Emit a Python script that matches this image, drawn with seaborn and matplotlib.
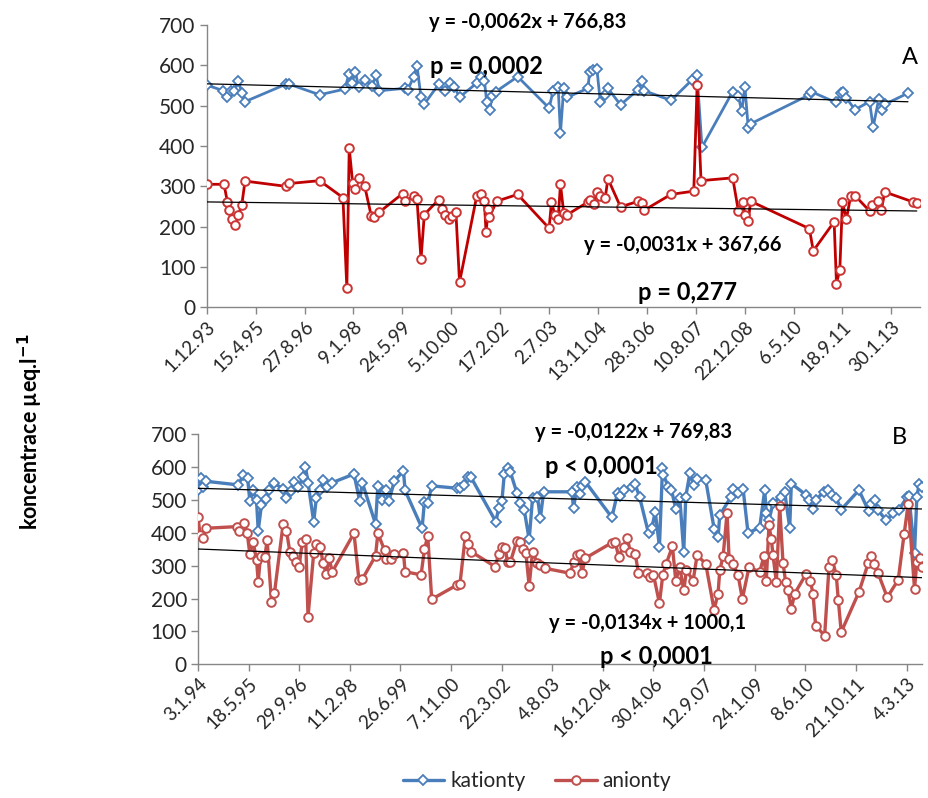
import numpy as np
import pandas as pd
import matplotlib
matplotlib.use("Agg")
import matplotlib.pyplot as plt
import seaborn as sns

# ---------------- Panel A (start 1.12.1993), days since start ----------------
a_start = "1993-12-01"
a_cat_days = [0, 171, 205, 249, 283, 324, 358, 392, 809, 846, 1154, 1410, 1457, 1485,
              1519, 1553, 1614, 1694, 1731, 1766, 2024, 2058, 2116, 2150, 2191, 2225,
              2372, 2439, 2490, 2531, 2585, 2761, 2802, 2839, 2863, 2897, 2914, 2958,
              3179, 3501, 3542, 3593, 3617, 3650, 3688, 3898, 3915, 3949, 3990, 4024,
              4068, 4102, 4231, 4407, 4448, 4475, 4747, 4963, 5014, 5064, 5378, 5436,
              5470, 5503, 5537, 5561, 6162, 6179, 6432, 6483, 6506, 6540, 6628, 6777,
              6814, 6871, 6905, 6939, 7170]
a_cat_vals = [551, 537, 521, 537, 537, 562, 532, 510, 553, 553, 527, 541, 579, 557,
              584, 547, 564, 549, 576, 537, 543, 540, 572, 599, 521, 504,
              553, 537, 557, 547, 521, 556, 570, 562, 510, 488, 524, 535,
              572, 494, 537, 547, 432, 543, 521, 543, 584, 588, 590, 510,
              527, 543, 502, 539, 560, 537, 513, 564, 576, 397, 535, 524,
              486, 546, 444, 455, 527, 535, 508, 531, 535, 519, 490, 510,
              447, 516, 490, 504, 531]
a_an_days = [0, 177, 212, 232, 263, 290, 324, 358, 392, 809, 846, 1154, 1393, 1433,
             1457, 1492, 1519, 1553, 1614, 1683, 1713, 1765, 2003, 2031, 2116, 2150,
             2191, 2225, 2372, 2405, 2439, 2473, 2507, 2548, 2585, 2761, 2802, 2839,
             2856, 2880, 2890, 2965, 3179, 3501, 3525, 3559, 3593, 3617, 3650, 3688,
             3898, 3915, 3959, 3990, 4024, 4075, 4102, 4231, 4414, 4448, 4475, 4747,
             4980, 5014, 5054, 5378, 5436, 5480, 5503, 5537, 5561, 6162, 6202, 6415,
             6439, 6473, 6500, 6540, 6584, 6628, 6777, 6804, 6865, 6898, 6932, 7226,
             7260]
a_an_vals = [305, 305, 261, 241, 220, 203, 230, 253, 313, 300, 307, 314, 272, 47,
             395, 309, 294, 321, 302, 226, 225, 236, 282, 263, 276, 269,
             119, 230, 267, 243, 230, 220, 226, 236, 62, 276, 280, 263,
             187, 243, 224, 263, 280, 196, 261, 230, 218, 305, 235, 230,
             261, 267, 255, 286, 276, 272, 319, 249, 263, 258, 241, 280,
             288, 550, 314, 321, 239, 261, 230, 214, 263, 195, 140, 212,
             59, 93, 261, 218, 276, 277, 239, 253, 263, 241, 286, 261,
             258]
a_ticks = ["1.12.93", "15.4.95", "27.8.96", "9.1.98", "24.5.99", "5.10.00", "17.2.02",
           "2.7.03", "13.11.04", "28.3.06", "10.8.07", "22.12.08", "6.5.10", "18.9.11",
           "30.1.13"]
# trend lines (x = spreadsheet date serial)
a_cat_trend = (-0.0062, 766.83)
a_an_trend = (-0.0031, 367.66)

# ---------------- Panel B (start 3.1.1994), days since start ----------------
b_start = "1994-01-03"
b_cat_days = [0, 30, 53, 79, 397, 447, 490, 512, 545, 578, 595, 627, 670, 700, 749,
              841, 874, 923, 949, 989, 1038, 1061, 1087, 1143, 1169, 1209, 1235, 1275,
              1327, 1541, 1597, 1623, 1754, 1777, 1820, 1853, 1886, 1941, 2030, 2046,
              2214, 2237, 2270, 2309, 2556, 2588, 2631, 2664, 2697, 2943, 2970, 3003,
              3026, 3058, 3085, 3150, 3183, 3223, 3272, 3305, 3354, 3382, 3415, 3694,
              3710, 3743, 3770, 3793, 3826, 4089, 4145, 4171, 4204, 4286, 4319, 4362,
              4451, 4484, 4517, 4559, 4589, 4599, 4648, 4678, 4720, 4760, 4799, 4819,
              4859, 4898, 4931, 5016, 5099, 5138, 5155, 5263, 5286, 5336, 5385, 5434,
              5549, 5599, 5615, 5641, 5681, 5757, 5796, 5846, 5862, 6010, 6036, 6076,
              6102, 6181, 6224, 6267, 6306, 6355, 6530, 6625, 6652, 6685, 6718, 6800,
              6865, 6925, 7004, 7024, 7079, 7102, 7125, 7150]
b_cat_vals = [531, 568, 539, 557, 546, 576, 566, 498, 529, 500, 407, 485, 502, 529, 553,
              533, 507, 526, 556, 539, 569, 602, 553, 434, 505, 529, 561, 539,
              553, 579, 498, 553, 427, 543, 500, 529, 498, 558, 589, 529,
              414, 495, 490, 543, 536, 537, 545, 571, 569, 434, 475, 498,
              579, 597, 586, 522, 490, 470, 380, 505, 510, 444, 525, 525,
              475, 539, 518, 543, 556, 447, 522, 512, 529, 541, 548, 510,
              399, 414, 465, 358, 597, 576, 539, 530, 474, 505, 342, 510,
              581, 545, 565, 561, 413, 386, 454, 508, 535, 520, 535, 400,
              416, 530, 459, 438, 491, 510, 525, 416, 550, 515, 499, 474,
              499, 525, 530, 515, 505, 471, 530, 467, 489, 499, 469, 438,
              459, 471, 508, 512, 339, 508, 550, 540]
b_an_days = [0, 20, 46, 79, 381, 407, 453, 486, 512, 545, 578, 595, 618, 660, 683,
             726, 755, 841, 874, 907, 939, 972, 998, 1031, 1064, 1087, 1143, 1169,
             1209, 1235, 1268, 1294, 1327, 1541, 1590, 1623, 1754, 1777, 1843, 1859,
             1909, 1941, 2030, 2046, 2204, 2237, 2270, 2309, 2556, 2588, 2641, 2664,
             2697, 2937, 2970, 3003, 3035, 3058, 3085, 3150, 3183, 3213, 3239, 3272,
             3305, 3354, 3382, 3431, 3678, 3710, 3743, 3770, 3793, 3826, 4089, 4122,
             4155, 4204, 4243, 4270, 4319, 4352, 4434, 4467, 4500, 4559, 4592, 4625,
             4687, 4720, 4760, 4799, 4826, 4892, 4931, 5016, 5099, 5138, 5155, 5188,
             5227, 5247, 5286, 5336, 5378, 5444, 5549, 5592, 5615, 5641, 5664, 5681,
             5714, 5747, 5780, 5806, 5829, 5862, 5895, 6010, 6049, 6076, 6102, 6191,
             6234, 6267, 6306, 6326, 6355, 6530, 6622, 6648, 6678, 6718, 6810, 6918,
             6977, 7017, 7079, 7102, 7135, 7150]
b_an_vals = [449, 394, 383, 414, 419, 407, 429, 399, 336, 373, 318, 252, 330, 326, 378,
             191, 216, 427, 407, 343, 331, 310, 297, 373, 382, 145, 338, 366,
             358, 307, 276, 323, 282, 399, 257, 259, 330, 399, 347, 320,
             320, 336, 340, 282, 272, 350, 390, 198, 241, 244, 390, 366,
             343, 297, 336, 358, 353, 312, 310, 376, 371, 350, 340, 238,
             343, 307, 302, 292, 277, 312, 332, 337, 277, 323, 370, 373,
             328, 358, 383, 343, 337, 277, 277, 267, 272, 186, 272, 305,
             359, 255, 296, 225, 286, 255, 332, 306, 166, 215, 286, 329,
             461, 321, 306, 271, 199, 296, 281, 329, 255, 423, 382, 332,
             250, 481, 308, 250, 225, 169, 215, 276, 255, 215, 118, 87,
             296, 318, 271, 196, 98, 220, 308, 329, 304, 278, 204, 257,
             398, 489, 230, 311, 324, 296]
b_ticks = ["3.1.94", "18.5.95", "29.9.96", "11.2.98", "26.6.99", "7.11.00", "22.3.02",
           "4.8.03", "16.12.04", "30.4.06", "12.9.07", "24.1.09", "8.6.10", "21.10.11",
           "4.3.13"]
b_cat_trend = (-0.0088, 837.8)
b_an_trend = (-0.0122, 769.83)

series_names = ["kationty", "anionty"]
y_label = r"koncentrace µeq.l$^{\mathbf{-1}}$"

# ---------------- styling ----------------
sns.set_theme(style="white")
plt.rcParams['font.family'] = ['Lato', 'DejaVu Sans']

BLUE = "#4a7ebb"
RED_A = "#c00000"
RED_A_EDGE = "#cc3333"
RED_B = "#c0504d"
AXIS = "#868686"
TXT = "#262626"
W, H = 929, 798

fig = plt.figure(figsize=(W / 100, H / 100), dpi=100)
axA = fig.add_axes([206.7 / W, 1 - 307.3 / H, (920 - 206.7) / W, 282.3 / H])
axB = fig.add_axes([198 / W, 1 - 664.3 / H, (921.7 - 198) / W, 230 / H])


def serial(date_str):
    return (pd.Timestamp(date_str) - pd.Timestamp("1899-12-30")).days


def draw_panel(ax, start, cat_d, cat_v, an_d, an_v, cat_tr, an_tr, ticks, xmax,
               red, red_edge, lw):
    sns.lineplot(x=cat_d, y=cat_v, ax=ax, sort=False, color=BLUE, linewidth=lw,
                 marker="D", markersize=5.2, markerfacecolor="white",
                 markeredgecolor=BLUE, markeredgewidth=1.3, zorder=3)
    sns.lineplot(x=an_d, y=an_v, ax=ax, sort=False, color=red, linewidth=lw,
                 marker="o", markersize=6.2, markerfacecolor="white",
                 markeredgecolor=red_edge, markeredgewidth=1.4, zorder=3)
    s0 = serial(start)
    for (m, c), days in ((cat_tr, cat_d), (an_tr, an_d)):
        xs = np.array([0, days[-1]])
        sns.lineplot(x=xs, y=m * (s0 + xs) + c, ax=ax, color="black",
                     linewidth=0.9, zorder=4)
    ax.set_xlim(0, xmax)
    ax.set_ylim(0, 700)
    ax.set_yticks(range(0, 701, 100))
    ax.set_xticks(np.arange(len(ticks)) * 500)
    ax.set_xticklabels(ticks, rotation=45, ha="right", rotation_mode="anchor",
                       fontsize=13.5, color=TXT)
    ax.tick_params(axis="y", labelsize=15, colors=TXT, length=5,
                   width=1, color=AXIS, direction="out", left=True, pad=3)
    ax.tick_params(axis="x", length=5, width=1, color=AXIS, direction="out",
                   bottom=True, pad=3)
    for s in ("top", "right"):
        ax.spines[s].set_visible(False)
    for s in ("left", "bottom"):
        ax.spines[s].set_color(AXIS)
        ax.spines[s].set_linewidth(1)
    ax.set_xlabel("")
    ax.set_ylabel("")
    ax.grid(False)
    ax.set_facecolor("none")


draw_panel(axA, a_start, a_cat_days, a_cat_vals, a_an_days, a_an_vals,
           a_cat_trend, a_an_trend, a_ticks, 7293, RED_A, RED_A_EDGE, 2.0)
draw_panel(axB, b_start, b_cat_days, b_cat_vals, b_an_days, b_an_vals,
           b_cat_trend, b_an_trend, b_ticks, 7150, RED_B, RED_B, 2.4)


def ftext(x, y, s, **kw):
    fig.text(x / W, 1 - y / H, s, ha="center", va="center", color="black", **kw)


# trend equations and significance
ftext(528, 22, "y = -0,0062x + 766,83", fontsize=14.5, fontweight="bold")
ftext(487, 67, "p = 0,0002", fontsize=17, fontweight="bold")
ftext(910, 57, "A", fontsize=17)
ftext(683, 245, "y = -0,0031x + 367,66", fontsize=14.5, fontweight="bold")
ftext(688, 292, "p = 0,277", fontsize=17, fontweight="bold")

ftext(634, 432, "y = -0,0122x + 769,83", fontsize=14.5, fontweight="bold")
ftext(601, 466, "p < 0,0001", fontsize=17, fontweight="bold")
ftext(899, 438, "B", fontsize=17)
ftext(648, 623, "y = -0,0134x + 1000,1", fontsize=14.5, fontweight="bold")
ftext(656, 656, "p < 0,0001", fontsize=17, fontweight="bold")

ftext(30, 432, y_label, fontsize=15.5, fontweight="bold", rotation=90)

# legend from panel B's data lines
handles = axB.get_lines()[:2]
fig.legend(handles, series_names, loc="center", ncol=2, frameon=False,
           bbox_to_anchor=(537 / W, 1 - 781 / H), fontsize=15,
           handlelength=2.0, columnspacing=1.4, handletextpad=0.3,
           labelcolor=TXT)

fig.savefig("out.png", dpi=100)
